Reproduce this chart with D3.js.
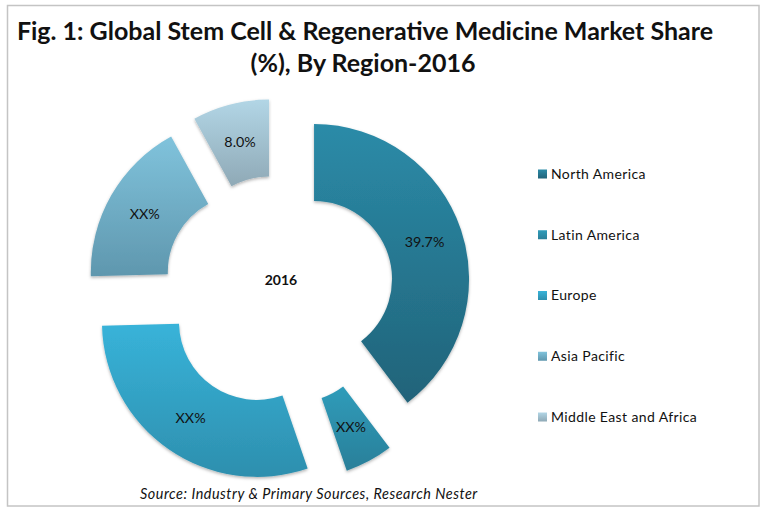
<!DOCTYPE html>
<html><head><meta charset="utf-8">
<script src="https://cdn.jsdelivr.net/npm/d3@7"></script>
<style>html,body{margin:0;padding:0;background:#fff}svg{display:block}text{font-family:Lato,sans-serif;fill:#111}</style>
</head><body><svg id="c" width="763" height="511"></svg>
<script>
const regions = ["North America","Latin America","Europe","Asia Pacific","Middle East and Africa"];
const shares = [39.7,5.0,29.9,17.4,8.0];
const dataLabels = ["39.7%","XX%","XX%","XX%","8.0%"];
const topColors = ["#2b8ba8","#2f9cba","#38b3d9","#80c3dc","#b2d6e6"];
const bottomColors = ["#216379","#2a7f99","#2d8fae","#5f97ae","#8fa9b6"];
const titleLines = ["Fig. 1: Global Stem Cell & Regenerative Medicine Market Share","(%), By Region-2016"];
const centerLabel = "2016";
const sourceText = "Source: Industry & Primary Sources, Research Nester";

const svg = d3.select("#c");
const defs = svg.append("defs");
const f = defs.append("filter").attr("id","sh").attr("x","-10%").attr("y","-10%").attr("width","120%").attr("height","120%");
f.append("feDropShadow").attr("dx",0).attr("dy",1.5).attr("stdDeviation",1.5).attr("flood-color","#000").attr("flood-opacity",0.3);
regions.forEach((r,i)=>{
  const g = defs.append("linearGradient").attr("id","g"+i).attr("x1",0).attr("y1",0).attr("x2",0).attr("y2",1);
  g.append("stop").attr("offset","0%").attr("stop-color",topColors[i]);
  g.append("stop").attr("offset","100%").attr("stop-color",bottomColors[i]);
});

svg.append("rect").attr("x",7.5).attr("y",5.5).attr("width",751.5).attr("height",500.5)
  .attr("fill","#fff").attr("stroke","#c4c4c4").attr("stroke-width",1.5);

const titleX = [365,363];
titleLines.forEach((t,i)=>svg.append("text").attr("x",titleX[i]).attr("y",40+i*31.5)
  .attr("text-anchor","middle").attr("font-size",25).attr("font-weight",700).attr("fill","#111").text(t));

const cx=278.4, cy=291, R=155, r=78, explode=37.6;
const pie = d3.pie().sort(null).value(d=>d)(shares);
const arc = d3.arc().innerRadius(r).outerRadius(R);
const g = svg.append("g").attr("transform",`translate(${cx},${cy})`);
const sl = g.selectAll("g.s").data(pie).join("g").attr("class","s")
  .attr("transform",d=>{const m=(d.startAngle+d.endAngle)/2;return `translate(${explode*Math.sin(m)},${-explode*Math.cos(m)})`;});
sl.append("path").attr("d",arc).attr("fill",(d,i)=>`url(#g${i})`).attr("filter","url(#sh)");
sl.append("text").attr("transform",d=>`translate(${arc.centroid(d)})`).attr("text-anchor","middle").attr("dy","0.35em")
  .attr("font-size",14.3).text((d,i)=>dataLabels[i]);

svg.append("text").attr("x",281).attr("y",285).attr("text-anchor","middle").attr("font-size",14).attr("font-weight",700).text(centerLabel);

const ly = d3.scalePoint().domain(regions).range([174,417]);
const lg = svg.selectAll("g.l").data(regions).join("g").attr("class","l").attr("transform",d=>`translate(538,${ly(d)})`);
lg.append("rect").attr("x",0).attr("y",-4.5).attr("width",9).attr("height",9).attr("fill",(d,i)=>`url(#g${i})`);
lg.append("text").attr("x",13).attr("dy","0.35em").attr("font-size",14).style("letter-spacing","0.38px").text(d=>d);

svg.append("text").attr("x",140).attr("y",499).attr("font-size",14.4).attr("font-style","italic").style("letter-spacing","0.52px").text(sourceText);
</script></body></html>
